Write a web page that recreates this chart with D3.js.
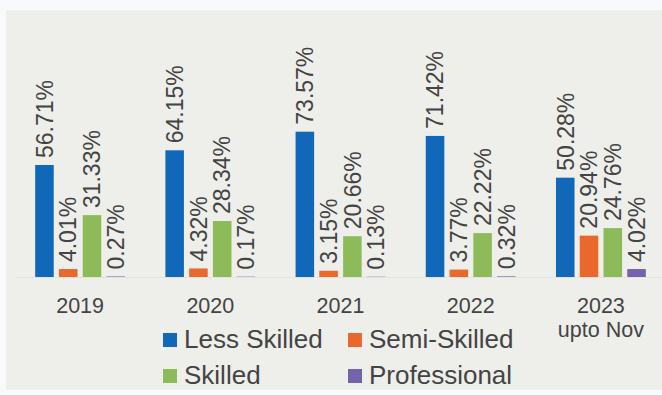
<!DOCTYPE html>
<html><head><meta charset="utf-8">
<script src="https://cdn.jsdelivr.net/npm/d3@7/dist/d3.min.js"></script>
<style>
html,body{margin:0;padding:0;background:#f8f9fb;}
svg{display:block;font-family:"Liberation Sans",Arial,sans-serif;}
</style></head><body>
<svg id="c" width="662" height="395"></svg>
<script>
const years = ["2019","2020","2021","2022","2023"];
const yearSub = ["","","","","upto Nov"];
const seriesNames = ["Less Skilled","Semi-Skilled","Skilled","Professional"];
const seriesColors = ["#1168b8","#e8692b","#8dbb5a","#7363ad"];
const lessSkilled = [56.71,64.15,73.57,71.42,50.28];
const semiSkilled = [4.01,4.32,3.15,3.77,20.94];
const skilled = [31.33,28.34,20.66,22.22,24.76];
const professional = [0.27,0.17,0.13,0.32,4.02];
const seriesValues = [lessSkilled,semiSkilled,skilled,professional];

const svg = d3.select("#c");
svg.append("rect").attr("x",6).attr("y",10).attr("width",656).attr("height",380).attr("fill","#eeeeea");

const baseY = 277;
const y = d3.scaleLinear().domain([0,80]).range([baseY, baseY-80*1.975]);
const x0 = d3.scaleBand().domain(years).range([15,666]).paddingInner(0.31).paddingOuter(0.155);
const x1 = d3.scaleBand().domain(seriesNames).range([0,x0.bandwidth()]).paddingInner(0.22).paddingOuter(0);

svg.append("line").attr("x1",15).attr("x2",662).attr("y1",baseY+0.5).attr("y2",baseY+0.5)
  .attr("stroke","#e2e2de").attr("stroke-width",1);

const g = svg.append("g");
years.forEach((yr,i)=>{
  seriesNames.forEach((s,j)=>{
    const v = seriesValues[j][i];
    const bx = x0(yr)+x1(s);
    g.append("rect").attr("x",bx).attr("y",y(v)).attr("width",x1.bandwidth())
      .attr("height",baseY-y(v)).attr("fill",seriesColors[j]);
    const cx = bx + x1.bandwidth()/2;
    const ty = y(v)-7;
    g.append("text").attr("transform",`translate(${cx},${ty}) rotate(-90)`)
      .attr("dy","0.36em").attr("text-anchor","start")
      .attr("font-size",23).attr("fill","#444").text(v.toFixed(2)+"%");
  });
});

const axis = d3.axisBottom(x0).tickSize(0).tickPadding(0);
const ax = svg.append("g").attr("transform",`translate(0,${baseY})`).call(axis);
ax.select(".domain").remove();
ax.selectAll("text").attr("font-size",21.5).attr("fill","#444").attr("dy",null).attr("y",36)
  .each(function(d,i){
    const t = d3.select(this);
    if (yearSub[i]) {
      t.append("tspan").attr("x",0).attr("y",60).text(yearSub[i]);
    }
  });

const legend = svg.append("g");
const legPos = [[163,333],[348,333],[163,369],[348,369]];
seriesNames.forEach((s,j)=>{
  const [lx,ly] = legPos[j];
  legend.append("rect").attr("x",lx).attr("y",ly).attr("width",14).attr("height",14).attr("fill",seriesColors[j]);
  legend.append("text").attr("x",lx+21).attr("y",ly+15).attr("font-size",26).attr("fill","#444").text(s);
});
</script>
</body></html>
